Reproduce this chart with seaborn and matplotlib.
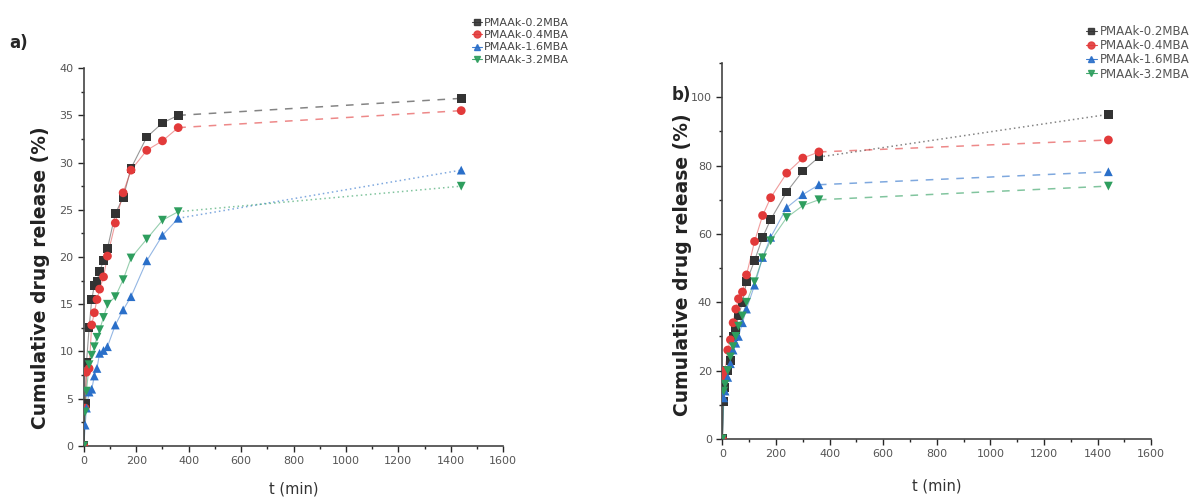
import numpy as np
import pandas as pd
import seaborn as sns
import matplotlib.pyplot as plt
from matplotlib.lines import Line2D
from matplotlib.ticker import MultipleLocator

# sampling times (min)
t_min = [0, 5, 10, 20, 30, 40, 50, 60, 75, 90, 120, 150, 180, 240, 300, 360, 1440]
series_names = ["PMAAk-0.2MBA", "PMAAk-0.4MBA", "PMAAk-1.6MBA", "PMAAk-3.2MBA"]

# panel a) cumulative release (%)
a_02 = [0, 4.5, 8.8, 12.5, 15.5, 17.0, 17.4, 18.5, 19.6, 20.9, 24.6, 26.3, 29.4, 32.7, 34.2, 35.0, 36.8]
a_04 = [0, 4.0, 7.8, 8.2, 12.8, 14.1, 15.5, 16.6, 17.9, 20.1, 23.6, 26.8, 29.2, 31.3, 32.3, 33.7, 35.5]
a_16 = [0, 2.2, 4.0, 5.7, 6.0, 7.4, 8.2, 9.8, 10.1, 10.5, 12.8, 14.4, 15.8, 19.6, 22.3, 24.1, 29.2]
a_32 = [0, 3.6, 5.8, 8.6, 9.6, 10.5, 11.5, 12.3, 13.6, 15.0, 15.8, 17.6, 19.9, 21.9, 23.9, 24.8, 27.5]

# panel b) cumulative release (%)
b_02 = [0, 11, 15, 20, 23, 30, 32, 36, 40, 46, 52.2, 59.0, 64.2, 72.3, 78.4, 82.5, 95.0]
b_04 = [0, 18, 20, 26, 29, 34, 38, 41, 43, 48, 57.8, 65.4, 70.6, 77.8, 82.2, 84.0, 87.5]
b_16 = [0, 12, 14, 18, 22, 26, 28, 30, 34, 38, 45.0, 53.1, 59.0, 67.7, 71.5, 74.4, 78.2]
b_32 = [0, 14, 16, 20, 24, 27, 30, 33, 36, 40, 46.0, 53.0, 58.0, 64.8, 68.3, 70.0, 74.0]

colors = ["#333333", "#e23a3a", "#2a6fc9", "#2e9e5e"]
markers = ["s", "o", "^", "v"]
tail_a = [(0, (5, 5)), (0, (5, 5)), (0, (1, 2)), (0, (1, 2))]
tail_b = [(0, (1, 2)), (0, (5, 5)), (0, (5, 5)), (0, (5, 5))]

sns.set_style("ticks")
plt.rcParams['font.family'] = ['DejaVu Sans']

fig = plt.figure(figsize=(11.98, 5.01), dpi=100)
ax_a = fig.add_axes([0.070, 0.110, 0.350, 0.754])
ax_b = fig.add_axes([0.603, 0.124, 0.358, 0.750])


def draw_panel(ax, values, tails):
    for vals, c, m, ls in zip(values, colors, markers, tails):
        df = pd.DataFrame({"t": t_min, "rel": vals})
        sns.lineplot(data=df.iloc[:-1], x="t", y="rel", color=c, lw=0.8, alpha=0.5, ax=ax)
        sns.lineplot(data=df.iloc[-2:], x="t", y="rel", color=c, lw=1.1, alpha=0.6,
                     linestyle=ls, ax=ax)
        sns.scatterplot(data=df, x="t", y="rel", color=c, marker=m, s=40,
                        edgecolor="none", ax=ax, zorder=3)
    ax.set_xlim(0, 1600)
    ax.xaxis.set_major_locator(MultipleLocator(200))
    ax.xaxis.set_minor_locator(MultipleLocator(100))
    ax.tick_params(which="major", length=4, width=1.0, labelsize=8, labelcolor="#555555")
    ax.tick_params(which="minor", length=2.5, width=1.0)
    for s in ("left", "bottom"):
        ax.spines[s].set_linewidth(1.2)
        ax.spines[s].set_color("#444444")
    ax.spines["top"].set_visible(False)
    ax.spines["right"].set_visible(False)
    ax.set_xlabel("t (min)", fontsize=10.5, color="#333333")
    ax.set_ylabel("Cumulative drug release (%)", fontsize=13.5, fontweight="bold", color="#222222")


draw_panel(ax_a, [a_02, a_04, a_16, a_32], tail_a)
ax_a.set_ylim(0, 40)
ax_a.yaxis.set_major_locator(MultipleLocator(5))
ax_a.yaxis.set_minor_locator(MultipleLocator(2.5))
ax_a.xaxis.set_label_coords(0.5, -0.095)
ax_a.yaxis.set_label_coords(-0.081, 0.444)

draw_panel(ax_b, [b_02, b_04, b_16, b_32], tail_b)
ax_b.set_ylim(0, 110)
ax_b.yaxis.set_major_locator(MultipleLocator(20))
ax_b.yaxis.set_minor_locator(MultipleLocator(10))
ax_b.xaxis.set_label_coords(0.5, -0.105)
ax_b.yaxis.set_label_coords(-0.070, 0.463)

handles = [Line2D([], [], color=c, marker=m, lw=0.8, alpha=0.9, markersize=5)
           for c, m in zip(colors, markers)]
fig.legend(handles, series_names, loc="upper left", bbox_to_anchor=(0.394, 0.964),
           frameon=False, fontsize=8, handlelength=0.9, handletextpad=0.2,
           labelspacing=0.2, borderpad=0, borderaxespad=0, labelcolor="#444444")
fig.legend(handles, series_names, loc="upper left", bbox_to_anchor=(0.9065, 0.95),
           frameon=False, fontsize=8.5, handlelength=0.9, handletextpad=0.3,
           labelspacing=0.1, borderpad=0, borderaxespad=0, labelcolor="#555555")

fig.text(0.008, 0.905, "a)", fontsize=12, fontweight="bold")
fig.text(0.561, 0.80, "b)", fontsize=12, fontweight="bold")

fig.savefig("out.png", dpi=100)
